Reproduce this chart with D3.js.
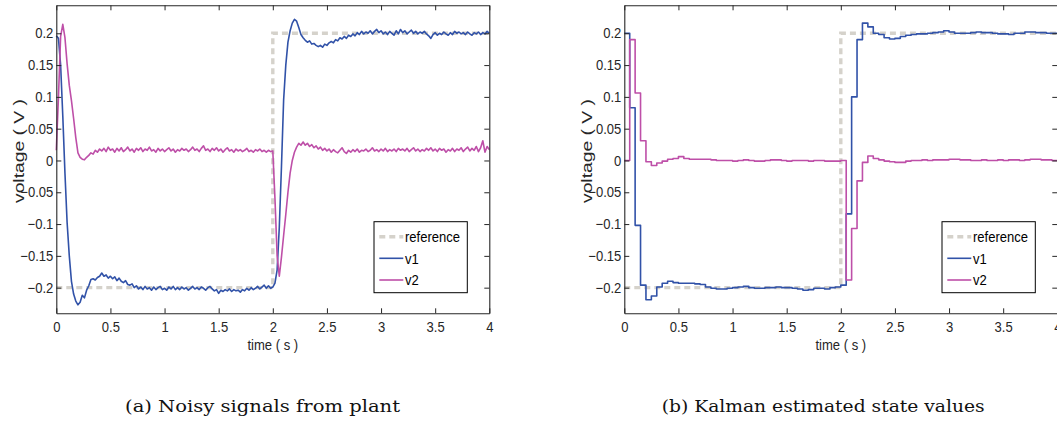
<!DOCTYPE html>
<html>
<head>
<meta charset="utf-8">
<script src="https://cdn.jsdelivr.net/npm/d3@7"></script>
<style>
  html, body { margin: 0; padding: 0; background: #fff; }
  svg { display: block; }
</style>
</head>
<body>
<svg id="fig" width="1057" height="423"></svg>
<script>
// ---- data -------------------------------------------------------------
// measured plant outputs, sampled every 0.02 s from 0 to 4 s
const noisyStep = 0.02;
const noisyV1 = [
  0.196, 0.192, 0.150, 0.070, -0.020, -0.098, -0.150, -0.190, -0.210, -0.221,
  -0.227, -0.223, -0.212, -0.216, -0.204, -0.197, -0.187, -0.186, -0.188, -0.184,
  -0.182, -0.177, -0.182, -0.180, -0.185, -0.182, -0.186, -0.183, -0.189, -0.185,
  -0.190, -0.192, -0.189, -0.195, -0.196, -0.194, -0.200, -0.197, -0.202, -0.199,
  -0.203, -0.198, -0.202, -0.200, -0.204, -0.199, -0.203, -0.200, -0.198, -0.203,
  -0.201, -0.204, -0.199, -0.202, -0.198, -0.203, -0.200, -0.203, -0.199, -0.202,
  -0.200, -0.204, -0.201, -0.198, -0.202, -0.200, -0.203, -0.199, -0.201, -0.204,
  -0.200, -0.198, -0.202, -0.205, -0.203, -0.209, -0.204, -0.206, -0.203, -0.205,
  -0.202, -0.206, -0.203, -0.205, -0.204, -0.207, -0.203, -0.205, -0.201, -0.204,
  -0.200, -0.203, -0.201, -0.198, -0.202, -0.199, -0.196, -0.201, -0.197, -0.201,
  -0.199, -0.193, -0.172, -0.105, -0.010, 0.095, 0.150, 0.186, 0.204, 0.216,
  0.222, 0.219, 0.209, 0.198, 0.193, 0.189, 0.186, 0.188, 0.183, 0.184,
  0.181, 0.179, 0.181, 0.178, 0.183, 0.181, 0.185, 0.187, 0.185, 0.190,
  0.188, 0.193, 0.191, 0.195, 0.192, 0.197, 0.195, 0.199, 0.196, 0.201,
  0.198, 0.203, 0.199, 0.202, 0.200, 0.204, 0.199, 0.203, 0.206, 0.201,
  0.204, 0.199, 0.202, 0.198, 0.203, 0.200, 0.197, 0.204, 0.199, 0.206,
  0.201, 0.204, 0.199, 0.202, 0.205, 0.200, 0.203, 0.199, 0.202, 0.200,
  0.203, 0.199, 0.196, 0.192, 0.198, 0.201, 0.197, 0.200, 0.198, 0.202,
  0.199, 0.197, 0.201, 0.198, 0.203, 0.200, 0.202, 0.199, 0.201, 0.198,
  0.202, 0.199, 0.197, 0.201, 0.199, 0.202, 0.198, 0.201, 0.199, 0.203,
  0.200
];
const noisyV2 = [
  0.016, 0.100, 0.195, 0.214, 0.193, 0.152, 0.118, 0.094, 0.066, 0.036,
  0.012, 0.005, 0.002, 0.001, 0.005, 0.008, 0.012, 0.010, 0.016, 0.013,
  0.018, 0.015, 0.019, 0.014, 0.021, 0.016, 0.018, 0.013, 0.019, 0.015,
  0.020, 0.014, 0.017, 0.021, 0.015, 0.018, 0.013, 0.019, 0.016, 0.020,
  0.014, 0.018, 0.016, 0.021, 0.015, 0.017, 0.013, 0.019, 0.015, 0.018,
  0.014, 0.017, 0.020, 0.015, 0.018, 0.013, 0.017, 0.015, 0.019, 0.016,
  0.018, 0.014, 0.017, 0.021, 0.016, 0.018, 0.014, 0.019, 0.023, 0.016,
  0.018, 0.014, 0.019, 0.016, 0.020, 0.015, 0.018, 0.013, 0.017, 0.020,
  0.015, 0.017, 0.013, 0.018, 0.015, 0.017, 0.014, 0.016, 0.019, 0.014,
  0.016, 0.013, 0.017, 0.015, 0.018, 0.014, 0.016, 0.013, 0.016, 0.014,
  0.015, -0.060, -0.150, -0.182, -0.152, -0.118, -0.085, -0.050, -0.020, 0.000,
  0.013, 0.021, 0.027, 0.024, 0.029, 0.024, 0.027, 0.022, 0.025, 0.020,
  0.023, 0.018, 0.021, 0.016, 0.019, 0.015, 0.018, 0.013, 0.017, 0.014,
  0.012, 0.016, 0.020, 0.014, 0.011, 0.016, 0.013, 0.017, 0.014, 0.018,
  0.013, 0.016, 0.015, 0.018, 0.014, 0.016, 0.020, 0.015, 0.017, 0.014,
  0.018, 0.015, 0.019, 0.014, 0.017, 0.015, 0.018, 0.014, 0.019, 0.016,
  0.018, 0.015, 0.019, 0.014, 0.017, 0.020, 0.015, 0.018, 0.014, 0.017,
  0.015, 0.019, 0.016, 0.020, 0.015, 0.018, 0.014, 0.019, 0.016, 0.018,
  0.013, 0.017, 0.015, 0.019, 0.014, 0.018, 0.016, 0.020, 0.014, 0.018,
  0.021, 0.015, 0.019, 0.016, 0.022, 0.014, 0.020, 0.031, 0.013, 0.022,
  0.017
];

// Kalman filter state estimates, one update every 0.05 s (held between updates)
const kalmanStep = 0.05;
const kalmanV1 = [
  0.200, 0.083, -0.102, -0.196, -0.219, -0.213, -0.199, -0.193, -0.190, -0.192,
  -0.193, -0.193, -0.193, -0.194, -0.195, -0.199, -0.201, -0.202, -0.202, -0.201,
  -0.200, -0.199, -0.198, -0.200, -0.201, -0.201, -0.200, -0.200, -0.199, -0.200,
  -0.200, -0.201, -0.202, -0.204, -0.203, -0.201, -0.201, -0.202, -0.200, -0.199,
  -0.196, -0.084, 0.100, 0.190, 0.216, 0.210, 0.200, 0.198, 0.193, 0.191,
  0.192, 0.195, 0.197, 0.198, 0.199, 0.199, 0.200, 0.201, 0.202, 0.204,
  0.202, 0.200, 0.200, 0.200, 0.201, 0.202, 0.201, 0.201, 0.200, 0.199,
  0.199, 0.198, 0.200, 0.200, 0.202, 0.202, 0.201, 0.201, 0.200, 0.200,
  0.200
];
const kalmanV2 = [
  0.000, 0.190, 0.106, 0.031, -0.002, -0.008, -0.004, -0.001, 0.002, 0.003,
  0.006, 0.003, 0.002, 0.002, 0.002, 0.002, 0.001, 0.000, 0.000, 0.000,
  -0.001, 0.000, 0.001, 0.000, -0.001, -0.001, 0.000, 0.001, 0.001, 0.000,
  -0.001, 0.000, 0.000, 0.000, -0.001, 0.000, 0.000, -0.001, -0.001, -0.001,
  0.000, -0.188, -0.107, -0.032, -0.003, 0.007, 0.003, 0.001, -0.001, -0.002,
  -0.003, -0.003, -0.001, 0.000, 0.000, 0.001, 0.000, 0.001, 0.001, 0.001,
  0.002, 0.002, 0.001, 0.001, 0.000, 0.000, 0.001, 0.000, 0.000, 0.001,
  0.000, 0.001, 0.001, 0.000, 0.001, 0.002, 0.002, 0.001, 0.001, 0.000,
  0.000
];

// square-wave set point
const referenceTime  = [0, 2, 2, 4];
const referenceValue = [-0.2, -0.2, 0.2, 0.2];

// axis ticks
const xTicks = [0, 0.5, 1, 1.5, 2, 2.5, 3, 3.5, 4];
const xTickLabels = ["0", "0.5", "1", "1.5", "2", "2.5", "3", "3.5", "4"];
const yTicks = [-0.2, -0.15, -0.1, -0.05, 0, 0.05, 0.1, 0.15, 0.2];
const yTickLabels = ["\u22120.2", "\u22120.15", "\u22120.1", "\u22120.05", "0", "0.05", "0.1", "0.15", "0.2"];

const seriesNames = ["reference", "v1", "v2"];
const captions = ["(a) Noisy signals from plant", "(b) Kalman estimated state values"];

// ---- drawing ------------------------------------------------------------
const COLORS = { reference: "#d5d2cb", v1: "#3152a8", v2: "#be4fa8", axis: "#262626" };
const FONT = "'Liberation Sans', Arial, Helvetica, sans-serif";
const FONT_SIZE = "14.5px";
const NARROW = "scale(0.9,1)";   // slightly condensed sans labels

const svg = d3.select("#fig");
svg.append("rect").attr("width", 1057).attr("height", 423).attr("fill", "#fff");

const plotTop = 5.3, plotBottom = 313.3, plotWidth = 433;

const toPoints = (values, step) => values.map((v, i) => [i * step, v]);
const referencePoints = referenceTime.map((t, i) => [t, referenceValue[i]]);

const panels = [
  { left: 56.3,  v1: toPoints(noisyV1, noisyStep),  v2: toPoints(noisyV2, noisyStep),  curve: d3.curveLinear,
    caption: captions[0], capX: 125, capLen: 275 },
  { left: 624.3, v1: toPoints(kalmanV1, kalmanStep), v2: toPoints(kalmanV2, kalmanStep), curve: d3.curveStepAfter,
    caption: captions[1], capX: 661.7, capLen: 323 }
];

function styleAxis(g) {
  g.selectAll("path.domain").attr("stroke", COLORS.axis).attr("stroke-width", 1.1);
  g.selectAll(".tick line").attr("stroke", COLORS.axis).attr("stroke-width", 1);
  g.selectAll(".tick text").attr("fill", COLORS.axis).attr("transform", NARROW)
    .style("font-family", FONT).style("font-size", FONT_SIZE);
}

panels.forEach(p => {
  const x = d3.scaleLinear().domain([0, 4]).range([p.left, p.left + plotWidth]);
  const y = d3.scaleLinear().domain([-0.2403, 0.244]).range([plotBottom, plotTop]);
  const g = svg.append("g");

  const line = d3.line().x(d => x(d[0])).y(d => y(d[1]));

  // set point
  g.append("path").datum(referencePoints)
    .attr("d", line.curve(d3.curveLinear))
    .attr("fill", "none").attr("stroke", COLORS.reference)
    .attr("stroke-width", 3.4).attr("stroke-dasharray", "6,4");

  // state traces
  const trace = d3.line().x(d => x(d[0])).y(d => y(d[1])).curve(p.curve);
  g.append("path").datum(p.v1).attr("d", trace)
    .attr("fill", "none").attr("stroke", COLORS.v1).attr("stroke-width", 1.6).attr("stroke-linejoin", "round");
  g.append("path").datum(p.v2).attr("d", trace)
    .attr("fill", "none").attr("stroke", COLORS.v2).attr("stroke-width", 1.6).attr("stroke-linejoin", "round");

  // box axes with inward ticks
  g.append("g").attr("transform", `translate(0,${plotBottom})`)
    .call(d3.axisBottom(x).tickValues(xTicks).tickFormat((d, i) => xTickLabels[i])
      .tickSize(-5).tickSizeOuter(0).tickPadding(8.5))
    .call(styleAxis);
  g.append("g").attr("transform", `translate(0,${plotTop})`)
    .call(d3.axisTop(x).tickValues(xTicks).tickFormat("").tickSize(-5).tickSizeOuter(0))
    .call(styleAxis);
  g.append("g").attr("transform", `translate(${p.left},0)`)
    .call(d3.axisLeft(y).tickValues(yTicks).tickFormat((d, i) => yTickLabels[i])
      .tickSize(-5).tickSizeOuter(0).tickPadding(3.3))
    .call(styleAxis);
  g.append("g").attr("transform", `translate(${p.left + plotWidth},0)`)
    .call(d3.axisRight(y).tickValues(yTicks).tickFormat("").tickSize(-5).tickSizeOuter(0))
    .call(styleAxis);

  // axis titles
  g.append("text")
    .attr("transform", `translate(${p.left + plotWidth / 2},349.5) ${NARROW}`)
    .attr("text-anchor", "middle").attr("fill", COLORS.axis)
    .style("font-family", FONT).style("font-size", FONT_SIZE)
    .text("time ( s )");
  g.append("text")
    .attr("transform", `translate(${p.left - 32.3},151) rotate(-90)`)
    .attr("x", -52).attr("textLength", 104).attr("lengthAdjust", "spacingAndGlyphs")
    .attr("fill", COLORS.axis)
    .style("font-family", FONT).style("font-size", "15.5px")
    .text("voltage ( V )");

  // legend
  const lx = p.left + 317.7, ly = 221.7;
  const lg = g.append("g");
  lg.append("rect").attr("x", lx).attr("y", ly).attr("width", 93.3).attr("height", 71)
    .attr("fill", "#fff").attr("stroke", "#000").attr("stroke-width", 1);
  const entryY = [15, 36.6, 58.3];
  seriesNames.forEach((name, i) => {
    const yy = ly + entryY[i];
    const l = lg.append("line").attr("x1", lx + 5.3).attr("x2", lx + 29.3)
      .attr("y1", yy).attr("y2", yy).attr("stroke", COLORS[name]);
    if (name === "reference") l.attr("stroke-width", 3.4).attr("stroke-dasharray", "6,4");
    else l.attr("stroke-width", 1.6);
    lg.append("text").attr("transform", `translate(${lx + 31},${yy}) ${NARROW}`).attr("dy", "0.36em")
      .attr("fill", "#000").style("font-family", FONT).style("font-size", FONT_SIZE)
      .text(name);
  });

  // sub-figure caption
  svg.append("text")
    .attr("x", p.capX).attr("y", 411.5)
    .attr("textLength", p.capLen).attr("lengthAdjust", "spacingAndGlyphs")
    .attr("fill", "#111")
    .style("font-family", "'DejaVu Serif', 'Liberation Serif', serif").style("font-size", "17px")
    .text(p.caption);
});
</script>
</body>
</html>
